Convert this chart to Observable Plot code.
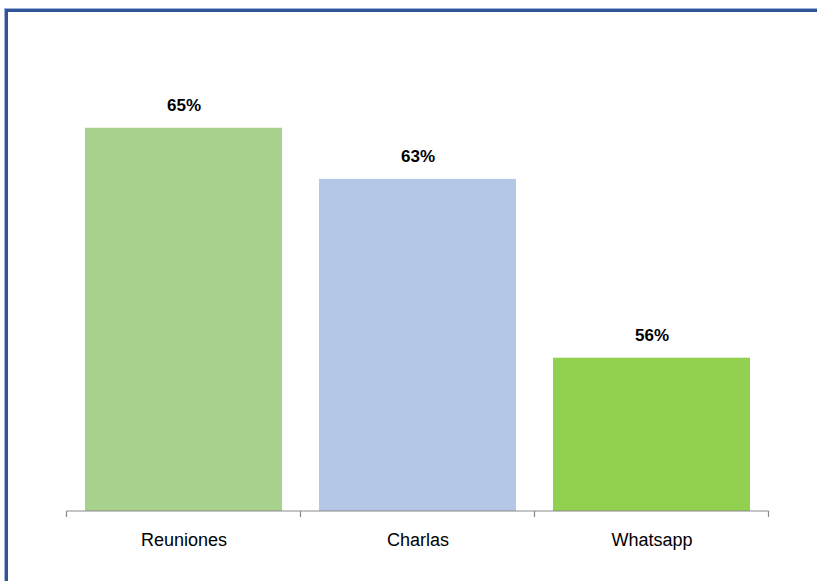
<!DOCTYPE html>
<html>
<head>
<meta charset="utf-8">
<script src="https://cdn.jsdelivr.net/npm/d3@7"></script>
<script src="https://cdn.jsdelivr.net/npm/@observablehq/plot@0.6"></script>
<style>
  html, body { margin: 0; padding: 0; background: #fff; overflow: hidden; }
  #wrap { position: relative; width: 817px; height: 581px; }
  #border { position: absolute; left: 5px; top: 9px; width: 900px; height: 700px;
            border: 3px solid #2f5597; box-sizing: border-box; box-shadow: 0 0 0 1px #9fb3d6; }
  #chart { position: absolute; left: 0; top: 0; }
</style>
</head>
<body>
<div id="wrap"><div id="border"></div><div id="chart"></div></div>
<script>
const categories = ["Reuniones", "Charlas", "Whatsapp"];
const values = [65, 63, 56];
const colors = ["#a9d18e", "#b4c7e7", "#92d050"];

const data = categories.map((c, i) => ({category: c, value: values[i], color: colors[i]}));
const pad = 0.157;

const boundaryTicks = (index, scales, vals, dims) => {
  const x = scales.x;
  const step = x.step(), bw = x.bandwidth();
  const gap = (step - bw) / 2;
  const xs = categories.map(c => x(c) - gap);
  xs.push(x(categories[categories.length - 1]) + bw + gap);
  const y0 = dims.height - dims.marginBottom;
  const g = d3.create("svg:g");
  g.append("line").attr("x1", xs[0]).attr("x2", xs[xs.length - 1])
    .attr("y1", y0).attr("y2", y0).attr("stroke", "#898989").attr("stroke-width", 1.2);
  for (const xv of xs) {
    g.append("line").attr("x1", xv).attr("x2", xv).attr("y1", y0).attr("y2", y0 + 6)
      .attr("stroke", "#898989").attr("stroke-width", 1.2);
  }
  return g.node();
};

const chart = Plot.plot({
  width: 817,
  height: 581,
  marginLeft: 67,
  marginRight: 48,
  marginTop: 0,
  marginBottom: 70,
  style: {background: "transparent", fontFamily: "'Liberation Sans', Arial, sans-serif"},
  x: {domain: categories, paddingInner: pad, paddingOuter: pad / 2, label: null},
  y: {domain: [50, 70], axis: null},
  marks: [
    Plot.barY(data, {x: "category", y1: 50, y2: "value", fill: "color"}),
    Plot.text(data, {x: "category", y: "value", text: d => d.value + "%", dy: -23,
      fontSize: 17, fontWeight: "bold", fill: "#000"}),
    boundaryTicks,
    Plot.axisX({tickSize: 0, tickPadding: 22, fontSize: 18, color: "#000", label: null})
  ]
});
document.getElementById("chart").appendChild(chart);
</script>
</body>
</html>
